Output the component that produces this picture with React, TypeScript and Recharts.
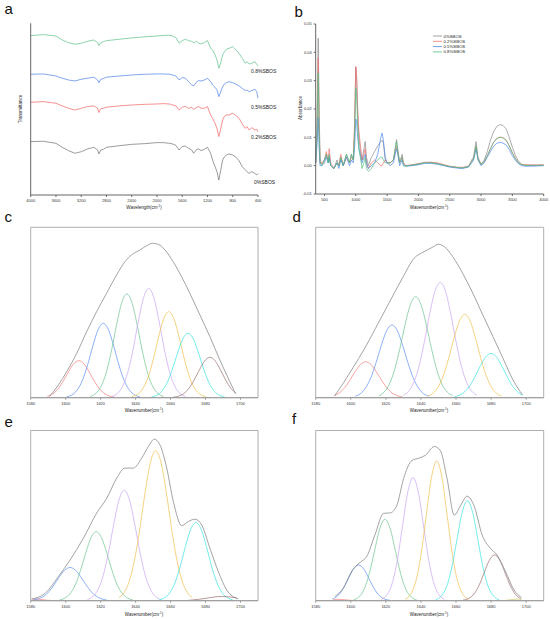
import React from "react";
import { LineChart, Line, XAxis, YAxis, ReferenceArea } from "recharts";

const FONT = "Arial, 'Liberation Sans', Helvetica, sans-serif";

// ---------- panel a : FTIR transmittance (offset traces, a.u.)
const ftirWn = [4000, 3800, 3600, 3500, 3400, 3300, 3200, 3100, 3000, 2940, 2920, 2890, 2850, 2800, 2600, 2400, 2200, 2000, 1900, 1800, 1750, 1700, 1650, 1600, 1550, 1500, 1450, 1420, 1370, 1340, 1300, 1250, 1200, 1150, 1120, 1080, 1050, 1020, 1000, 960, 930, 900, 860, 800, 760, 700, 650, 600, 575, 540, 500, 450, 420, 400];
const ftir08 = [92.8, 93.4, 92.6, 90.3, 88.7, 87.8, 88.4, 89.5, 90.3, 88.7, 87.0, 88.7, 89.3, 89.9, 90.7, 91.5, 92.1, 92.6, 93.0, 93.0, 92.6, 91.7, 88.4, 89.9, 90.7, 89.9, 89.5, 88.7, 89.5, 88.4, 88.0, 88.7, 89.9, 85.4, 84.5, 81.6, 78.7, 73.8, 75.7, 81.6, 83.5, 84.9, 85.4, 86.4, 84.9, 82.5, 79.6, 76.7, 77.7, 76.3, 76.7, 77.7, 76.1, 75.2];
const ftir05 = [70.3, 70.5, 69.3, 68.0, 67.0, 66.4, 67.4, 68.0, 68.6, 67.0, 65.4, 67.4, 67.8, 68.6, 69.3, 69.9, 70.3, 70.5, 70.5, 70.3, 69.9, 69.3, 67.0, 68.4, 68.0, 66.0, 64.1, 63.5, 66.0, 66.6, 66.4, 67.0, 68.0, 66.0, 64.1, 62.7, 61.2, 57.3, 59.2, 63.1, 64.7, 65.4, 66.0, 65.4, 64.7, 63.5, 62.1, 60.8, 61.2, 60.2, 60.8, 61.6, 60.2, 56.3];
const ftir02 = [54.0, 54.4, 53.4, 51.9, 50.5, 49.5, 50.5, 51.5, 51.9, 50.5, 48.0, 50.3, 50.5, 51.1, 51.9, 52.4, 52.8, 53.0, 53.2, 53.0, 52.4, 51.9, 49.5, 51.1, 51.5, 50.5, 51.1, 49.9, 51.1, 51.5, 50.5, 50.5, 51.5, 46.6, 44.7, 41.8, 38.8, 34.0, 36.9, 43.7, 46.0, 46.6, 46.6, 47.6, 46.6, 44.7, 41.4, 38.8, 39.8, 37.9, 39.2, 37.9, 38.3, 36.9];
const ftir00 = [31.1, 31.3, 30.1, 27.8, 25.8, 24.3, 25.2, 26.8, 27.8, 26.2, 23.9, 26.2, 26.6, 27.8, 28.7, 29.5, 29.9, 30.5, 30.5, 30.1, 29.7, 28.9, 26.2, 28.2, 28.5, 27.2, 26.2, 24.3, 26.6, 26.8, 25.8, 26.6, 27.8, 24.3, 20.4, 16.5, 13.6, 8.7, 12.6, 20.4, 22.3, 23.3, 23.9, 23.3, 22.3, 20.0, 16.5, 14.6, 13.6, 12.6, 13.6, 12.6, 11.7, 12.6];
const ftirTicks = [4000, 3600, 3200, 2800, 2400, 2000, 1600, 1200, 800, 400];

// ---------- panel b : absorbance
const absWn = [360, 380, 400, 415, 430, 460, 500, 530, 560, 575, 600, 650, 700, 730, 760, 800, 850, 900, 930, 960, 980, 1000, 1015, 1030, 1050, 1080, 1100, 1130, 1150, 1170, 1200, 1250, 1300, 1350, 1400, 1420, 1440, 1470, 1500, 1550, 1600, 1630, 1650, 1670, 1700, 1740, 1760, 1800, 1900, 2000, 2100, 2200, 2300, 2400, 2500, 2600, 2700, 2800, 2850, 2880, 2920, 2950, 3000, 3050, 3100, 3150, 3200, 3250, 3300, 3350, 3400, 3450, 3500, 3550, 3600, 3650, 3700, 3800, 3900, 4000];
const abs00 = [0.001, 0.012, 0.045, 0.02, 0.002, 0.0005, 0.002, 0.004, 0.001, 0.003, 0.0, -0.001, 0.002, 0.0, 0.003, 0.0, 0.004, 0.001, 0.004, 0.002, 0.012, 0.0348, 0.03, 0.018, 0.01, 0.004, 0.002, 0.006, 0.0085, 0.003, 0.0, 0.003, 0.005, 0.007, 0.0085, 0.009, 0.008, 0.002, 0.001, 0.001, 0.002, 0.006, 0.0092, 0.006, 0.001, 0.004, 0.001, 0.0, 0.0002, 0.0005, 0.0012, 0.0012, 0.0008, 0.0002, -0.0003, -0.0006, -0.0008, -0.0003, 0.002, 0.003, 0.0085, 0.003, 0.0005, 0.002, 0.005, 0.009, 0.012, 0.0138, 0.0145, 0.0142, 0.013, 0.01, 0.0065, 0.0035, 0.0015, 0.0005, 0.0002, 0.0001, 0.0001, 0.0002];
const abs02 = [0.001, 0.01, 0.038, 0.015, 0.001, 0.001, 0.002, 0.005, 0.002, 0.006, 0.001, -0.001, 0.001, 0.0, 0.004, 0.0, 0.003, 0.001, 0.003, 0.002, 0.015, 0.035, 0.031, 0.02, 0.012, 0.006, 0.002, 0.004, 0.006, 0.001, -0.001, 0.001, 0.002, 0.001, 0.0, 0.0, 0.001, 0.002, 0.001, 0.001, 0.002, 0.005, 0.0068, 0.005, 0.001, 0.003, 0.001, 0.0, 0.0003, 0.0008, 0.001, 0.0012, 0.001, 0.0004, -0.0002, -0.0005, -0.0006, -0.0002, 0.0015, 0.0025, 0.007, 0.0025, 0.0004, 0.0015, 0.0035, 0.006, 0.0082, 0.0096, 0.0101, 0.0099, 0.009, 0.007, 0.0045, 0.0025, 0.001, 0.0004, 0.0003, 0.0003, 0.0003, 0.0003];
const abs05 = [0.001, 0.007, 0.017, 0.006, 0.0, 0.0, 0.001, 0.003, 0.001, 0.003, 0.0, -0.001, 0.001, -0.001, 0.002, 0.0, 0.003, 0.0, 0.002, 0.001, 0.006, 0.0165, 0.015, 0.01, 0.006, 0.003, 0.001, 0.003, 0.004, 0.001, -0.001, 0.0, 0.001, 0.004, 0.01, 0.0115, 0.009, 0.003, 0.001, 0.0, 0.001, 0.004, 0.006, 0.004, 0.0, 0.002, 0.0, -0.0002, 0.0, 0.0003, 0.0008, 0.0008, 0.0005, 0.0, -0.0005, -0.0008, -0.001, -0.0005, 0.001, 0.002, 0.006, 0.002, 0.0, 0.001, 0.003, 0.005, 0.0068, 0.0079, 0.0082, 0.008, 0.0073, 0.0057, 0.0035, 0.0018, 0.0006, 0.0, -0.0002, -0.0002, -0.0001, 0.0];
const abs08 = [0.001, 0.012, 0.0327, 0.012, 0.001, 0.0, 0.002, 0.004, 0.001, 0.004, 0.0, -0.001, 0.001, 0.0, 0.003, 0.0, 0.004, 0.001, 0.004, 0.002, 0.01, 0.0275, 0.024, 0.014, 0.006, 0.002, -0.001, 0.001, 0.003, -0.001, -0.002, -0.001, 0.001, 0.002, 0.003, 0.003, 0.002, 0.001, 0.001, 0.001, 0.002, 0.006, 0.0085, 0.005, 0.001, 0.003, 0.0, -0.0001, 0.0002, 0.0006, 0.001, 0.001, 0.0007, 0.0002, -0.0003, -0.0006, -0.0008, -0.0003, 0.0015, 0.0025, 0.007, 0.0025, 0.0003, 0.0015, 0.0035, 0.006, 0.0082, 0.0095, 0.01, 0.0098, 0.009, 0.007, 0.0045, 0.0024, 0.001, 0.0003, 0.0001, 0.0001, 0.0001, 0.0001];
const absXTicks = [500, 1000, 1500, 2000, 2500, 3000, 3500, 4000];
const absYTicks = [-0.01, 0, 0.01, 0.02, 0.03, 0.04, 0.05];

const sampleNames = ["0%SBOS", "0.2%SBOS", "0.5%SBOS", "0.8%SBOS"];

// ---------- panels c-f : amide I peak fitting  [wavenumber, intensity]
const fitTicks = [1580, 1600, 1620, 1640, 1660, 1680, 1700];

const cRed = [[1589.5, 0.8], [1592.5, 2.2], [1595.5, 5.0], [1598.5, 9.5], [1601.5, 15.0], [1604.5, 19.8], [1607.5, 21.7], [1610.5, 19.8], [1613.5, 15.0], [1616.5, 9.5], [1619.5, 5.0], [1622.5, 2.2], [1625.5, 0.8], [1628.5, 0.2]];
const cBlue = [[1600.5, 0.5], [1603.5, 1.6], [1606.5, 4.4], [1609.5, 10.0], [1612.5, 19.1], [1615.5, 30.2], [1618.5, 39.8], [1621.5, 43.6], [1624.5, 39.8], [1627.5, 30.2], [1630.5, 19.1], [1633.5, 10.0], [1636.5, 4.4], [1639.5, 1.6], [1642.5, 0.5]];
const cGreen = [[1614, 0.7], [1617, 2.3], [1620, 6.2], [1623, 14.0], [1626, 26.7], [1629, 42.2], [1632, 55.5], [1635, 60.9], [1638, 55.5], [1641, 42.2], [1644, 26.7], [1647, 14.0], [1650, 6.2], [1653, 2.3], [1656, 0.7]];
const cPurple = [[1626.5, 0.7], [1629.5, 2.4], [1632.5, 6.5], [1635.5, 14.8], [1638.5, 28.1], [1641.5, 44.5], [1644.5, 58.5], [1647.5, 64.2], [1650.5, 58.5], [1653.5, 44.5], [1656.5, 28.1], [1659.5, 14.8], [1662.5, 6.5], [1665.5, 2.4], [1668.5, 0.7]];
const cYellow = [[1638, 0.6], [1641, 1.9], [1644, 5.1], [1647, 11.6], [1650, 22.1], [1653, 35.0], [1656, 46.1], [1659, 50.5], [1662, 46.1], [1665, 35.0], [1668, 22.1], [1671, 11.6], [1674, 5.1], [1677, 1.9], [1680, 0.6]];
const cCyan = [[1649, 0.4], [1652, 1.4], [1655, 3.8], [1658, 8.7], [1661, 16.6], [1664, 26.2], [1667, 34.5], [1670, 37.8], [1673, 34.5], [1676, 26.2], [1679, 16.6], [1682, 8.7], [1685, 3.8], [1688, 1.4], [1691, 0.4]];
const cBrown = [[1661.5, 0.3], [1664.5, 0.9], [1667.5, 2.4], [1670.5, 5.5], [1673.5, 10.4], [1676.5, 16.4], [1679.5, 21.6], [1682.5, 23.7], [1685.5, 21.6], [1688.5, 16.4], [1691.5, 10.4], [1694.5, 5.5], [1697.5, 2.4]];
const cSum = [[1590.7, 0.6], [1595.8, 7.4], [1600.6, 15.3], [1606.3, 26.0], [1612.0, 38.7], [1617.7, 50.5], [1623.4, 61.3], [1629.1, 72.0], [1633.9, 79.8], [1637.7, 83.8], [1642.5, 86.7], [1646.3, 89.2], [1649.7, 90.6], [1653.0, 90.0], [1656.8, 86.7], [1661.5, 79.8], [1666.3, 71.0], [1671.0, 61.3], [1676.8, 48.5], [1682.5, 35.8], [1688.2, 22.1], [1693.9, 9.4], [1697.1, 2.5]];

const dRed = [[1590.5, 1.2], [1593.5, 2.8], [1596.5, 5.9], [1599.5, 10.3], [1602.5, 15.3], [1605.5, 19.5], [1608.5, 21.1], [1611.5, 19.5], [1614.5, 15.3], [1617.5, 10.3], [1620.5, 5.9], [1623.5, 2.8], [1626.5, 1.2], [1629.5, 0.4]];
const dBlue = [[1602.5, 0.9], [1605.5, 2.4], [1608.5, 5.8], [1611.5, 11.9], [1614.5, 20.8], [1617.5, 31.0], [1620.5, 39.4], [1623.5, 42.7], [1626.5, 39.4], [1629.5, 31.0], [1632.5, 20.8], [1635.5, 11.9], [1638.5, 5.8], [1641.5, 2.4], [1644.5, 0.9]];
const dGreen = [[1616, 1.2], [1619, 3.3], [1622, 8.0], [1625, 16.5], [1628, 28.9], [1631, 43.1], [1634, 54.7], [1637, 59.3], [1640, 54.7], [1643, 43.1], [1646, 28.9], [1649, 16.5], [1652, 8.0], [1655, 3.3], [1658, 1.2]];
const dPurple = [[1630, 1.4], [1633, 3.8], [1636, 9.1], [1639, 18.8], [1642, 33.0], [1645, 49.2], [1648, 62.5], [1651, 67.7], [1654, 62.5], [1657, 49.2], [1660, 33.0], [1663, 18.8], [1666, 9.1], [1669, 3.8], [1672, 1.4]];
const dYellow = [[1644, 1.0], [1647, 2.7], [1650, 6.6], [1653, 13.6], [1656, 23.8], [1659, 35.5], [1662, 45.1], [1665, 48.9], [1668, 45.1], [1671, 35.5], [1674, 23.8], [1677, 13.6], [1680, 6.6], [1683, 2.7], [1686, 1.0]];
const dCyan = [[1659, 0.5], [1662, 1.5], [1665, 3.5], [1668, 7.2], [1671, 12.7], [1674, 18.9], [1677, 24.0], [1680, 26.0], [1683, 24.0], [1686, 18.9], [1689, 12.7], [1692, 7.2], [1695, 3.5], [1698, 1.5]];
const dSum = [[1590.7, 1.0], [1595.9, 8.8], [1601.6, 18.2], [1607.4, 28.0], [1614.1, 40.7], [1621.7, 55.4], [1629.4, 70.1], [1636.1, 81.8], [1641.8, 85.7], [1646.6, 88.3], [1649.9, 90.0], [1653.3, 88.7], [1658.1, 82.8], [1663.8, 73.0], [1669.6, 61.3], [1675.3, 48.5], [1681.1, 35.8], [1686.8, 23.1], [1692.5, 10.4], [1697.9, 1.6]];

const eRed = [[1580.5, 0.9], [1583, 1.0], [1586, 0.7], [1589, 0.3], [1592, 0.1]];
const eBlue = [[1581.5, 0.4], [1584.5, 1.1], [1587.5, 2.6], [1590.5, 5.4], [1593.5, 9.5], [1596.5, 14.2], [1599.5, 18.0], [1602.5, 19.5], [1605.5, 18.0], [1608.5, 14.2], [1611.5, 9.5], [1614.5, 5.4], [1617.5, 2.6], [1620.5, 1.1], [1623.5, 0.4]];
const eGreen = [[1596.5, 0.4], [1599.5, 1.5], [1602.5, 4.1], [1605.5, 9.3], [1608.5, 17.8], [1611.5, 28.1], [1614.5, 37.0], [1617.5, 40.6], [1620.5, 37.0], [1623.5, 28.1], [1626.5, 17.8], [1629.5, 9.3], [1632.5, 4.1], [1635.5, 1.5], [1638.5, 0.4]];
const ePurple = [[1612.5, 0.7], [1615.5, 2.4], [1618.5, 6.6], [1621.5, 14.9], [1624.5, 28.4], [1627.5, 45.0], [1630.5, 59.2], [1633.5, 64.9], [1636.5, 59.2], [1639.5, 45.0], [1642.5, 28.4], [1645.5, 14.9], [1648.5, 6.6], [1651.5, 2.4], [1654.5, 0.7]];
const eYellow = [[1630.5, 1.8], [1633.5, 4.9], [1636.5, 11.9], [1639.5, 24.5], [1642.5, 42.9], [1645.5, 64.0], [1648.5, 81.3], [1651.5, 88.1], [1654.5, 81.3], [1657.5, 64.0], [1660.5, 42.9], [1663.5, 24.5], [1666.5, 11.9], [1669.5, 4.9], [1672.5, 1.8]];
const eCyan = [[1653.5, 0.5], [1656.5, 1.7], [1659.5, 4.6], [1662.5, 10.6], [1665.5, 20.1], [1668.5, 31.8], [1671.5, 41.9], [1674.5, 45.9], [1677.5, 41.9], [1680.5, 31.8], [1683.5, 20.1], [1686.5, 10.6], [1689.5, 4.6], [1692.5, 1.7], [1695.5, 0.5]];
const eBrown = [[1670, 0.2], [1676, 0.8], [1682, 1.7], [1687, 2.4], [1690, 2.5], [1694, 2.2], [1698, 1.6]];
const eSum = [[1580.6, 1.0], [1588.2, 4.3], [1595.8, 14.1], [1602.5, 23.9], [1610.1, 36.7], [1617.7, 51.4], [1623.5, 60.2], [1629.2, 72.0], [1633.9, 77.9], [1638.7, 77.9], [1643.5, 83.8], [1647.3, 90.6], [1650.7, 94.9], [1653.9, 91.6], [1657.8, 77.9], [1661.6, 58.2], [1666.4, 44.1], [1670.1, 46.5], [1674.0, 47.9], [1677.8, 44.5], [1682.5, 30.8], [1687.3, 17.1], [1692.1, 6.3], [1698.7, 1.0]];

const fRed = [[1590, 0.5], [1593, 0.8], [1597, 0.5], [1601, 0.1]];
const fBlue = [[1589.5, 0.9], [1592.5, 2.8], [1595.5, 6.8], [1598.5, 12.7], [1601.5, 18.5], [1604.5, 21.0], [1607.5, 18.5], [1610.5, 12.7], [1613.5, 6.8], [1616.5, 2.8], [1619.5, 0.9], [1622.5, 0.2]];
const fGreen = [[1601.5, 0.5], [1604.5, 2.1], [1607.5, 6.5], [1610.5, 15.6], [1613.5, 29.1], [1616.5, 42.2], [1619.5, 47.9], [1622.5, 42.2], [1625.5, 29.1], [1628.5, 15.6], [1631.5, 6.5], [1634.5, 2.1], [1637.5, 0.5]];
const fPurple = [[1617.5, 0.8], [1620.5, 3.2], [1623.5, 9.8], [1626.5, 23.5], [1629.5, 43.9], [1632.5, 63.8], [1635.5, 72.3], [1638.5, 63.8], [1641.5, 43.9], [1644.5, 23.5], [1647.5, 9.8], [1650.5, 3.2], [1653.5, 0.8]];
const fYellow = [[1631, 0.9], [1634, 3.6], [1637, 11.1], [1640, 26.7], [1643, 49.8], [1646, 72.4], [1649, 82.1], [1652, 72.4], [1655, 49.8], [1658, 26.7], [1661, 11.1], [1664, 3.6], [1667, 0.9]];
const fCyan = [[1648.5, 0.6], [1651.5, 2.6], [1654.5, 7.9], [1657.5, 19.1], [1660.5, 35.6], [1663.5, 51.8], [1666.5, 58.7], [1669.5, 51.8], [1672.5, 35.6], [1675.5, 19.1], [1678.5, 7.9], [1681.5, 2.6], [1684.5, 0.6]];
const fBrown = [[1664, 0.3], [1667, 1.2], [1670, 3.6], [1673, 8.7], [1676, 16.3], [1679, 23.7], [1682, 26.9], [1685, 23.7], [1688, 16.3], [1691, 8.7], [1694, 3.6], [1697, 1.2]];
const fOlive = [[1688, 0.2], [1692, 0.6], [1695, 1.0], [1697.5, 0.8]];
const fSum = [[1591.0, 2.5], [1595.8, 7.5], [1600.6, 17.5], [1605.3, 22.5], [1609.1, 26.0], [1613.9, 39.0], [1618.7, 51.3], [1622.5, 51.6], [1626.3, 56.1], [1630.1, 71.7], [1634.9, 82.4], [1639.0, 83.8], [1642.5, 85.4], [1647.6, 90.6], [1651.0, 88.3], [1654.9, 71.7], [1659.0, 50.3], [1662.5, 55.7], [1666.3, 61.4], [1670.5, 55.2], [1674.9, 38.6], [1679.6, 30.8], [1683.4, 26.9], [1688.2, 17.2], [1693.0, 6.4], [1697.3, 1.9]];

// ---------- colours
const GRAY = "#8c8c8c";
const RED = "#f47c7c";
const BLUE = "#5b8ff0";
const GREEN = "#6cc490";
const PURPLE = "#c7a3f2";
const YELLOW = "#f0bf4c";
const CYAN = "#38e2e2";
const BROWN = "#9c6e6e";
const OLIVE = "#c8c060";
const AXIS = "#666";
const BOX = "#9a9a9a";

const toPts = (a: number[][]) => a.map(([x, y]) => ({ x, y }));

const ftirRows = ftirWn.map((wn, i) => ({ wn, s00: ftir00[i], s02: ftir02[i], s05: ftir05[i], s08: ftir08[i] }));
const absRows = absWn.map((wn, i) => ({ wn, s00: abs00[i], s02: abs02[i], s05: abs05[i], s08: abs08[i] }));

const tickStyle = { fontSize: 4, fill: "#333", fontFamily: FONT };

type FitProps = {
  left: number;
  top: number;
  height: number;
  margin: { top: number; right: number; bottom: number; left: number };
  series: [number[][], string][];
  sum: number[][];
};

function FitPanel({ left, top, height, margin, series, sum }: FitProps) {
  return (
    <div style={{ position: "absolute", left, top }}>
      <LineChart width={275} height={height} margin={margin}>
        <XAxis
          dataKey="x"
          type="number"
          domain={[1580, 1710]}
          ticks={fitTicks}
          interval={0}
          height={12}
          tick={tickStyle}
          tickSize={2}
          stroke={BOX}
          allowDataOverflow
        />
        <YAxis type="number" domain={[0, 100]} hide allowDataOverflow />
        <ReferenceArea x1={1580} x2={1710} y1={0} y2={100} fill="none" stroke={BOX} strokeWidth={0.8} />
        {series.map(([pts, color], i) => (
          <Line
            key={i}
            data={toPts(pts)}
            dataKey="y"
            type="monotone"
            stroke={color}
            strokeWidth={0.7}
            dot={false}
            isAnimationActive={false}
          />
        ))}
        <Line data={toPts(sum)} dataKey="y" type="monotone" stroke={GRAY} strokeWidth={0.8} dot={false} isAnimationActive={false} />
      </LineChart>
    </div>
  );
}

function WnLabel({ x, y, text }: { x: number; y: number; text: string }) {
  return (
    <text x={x} y={y} fontSize={4.5} textAnchor="middle" fill="#222" fontFamily={FONT}>
      {text}(cm<tspan dy={-1.6} fontSize={3}>-1</tspan>
      <tspan dy={1.6}>)</tspan>
    </text>
  );
}

export default function App() {
  const topMargin = { top: 12.3, right: 17, bottom: 5.3, left: 30.7 };
  const topMarginR = { top: 12.3, right: 6.3, bottom: 5.3, left: 40.7 };
  const botMargin = { top: 15.5, right: 17, bottom: 6.3, left: 30.7 };
  const botMarginR = { top: 15.5, right: 6.3, bottom: 6.3, left: 40.7 };

  return (
    <div style={{ position: "absolute", left: 0, top: 0, width: 550, height: 619, background: "#fff", fontFamily: FONT }}>
      {/* a */}
      <div style={{ position: "absolute", left: 0, top: 0 }}>
        <LineChart width={275} height={215} data={ftirRows} margin={{ top: 23.3, right: 17, bottom: 6, left: 29.7 }}>
          <XAxis
            dataKey="wn"
            type="number"
            domain={[400, 4000]}
            reversed
            ticks={ftirTicks}
            interval={0}
            height={14}
            tick={tickStyle}
            tickSize={2}
            stroke={AXIS}
          />
          <YAxis type="number" domain={[0, 100]} width={1} tick={false} tickLine={false} stroke={AXIS} />
          <Line dataKey="s00" type="linear" stroke="#707070" strokeWidth={0.7} dot={false} isAnimationActive={false} />
          <Line dataKey="s02" type="linear" stroke="#f06262" strokeWidth={0.7} dot={false} isAnimationActive={false} />
          <Line dataKey="s05" type="linear" stroke="#4a80e6" strokeWidth={0.7} dot={false} isAnimationActive={false} />
          <Line dataKey="s08" type="linear" stroke="#5cc28a" strokeWidth={0.7} dot={false} isAnimationActive={false} />
        </LineChart>
      </div>

      {/* b */}
      <div style={{ position: "absolute", left: 275, top: 0 }}>
        <LineChart width={275} height={215} data={absRows} margin={{ top: 24, right: 6.3, bottom: 7, left: 27.7 }}>
          <XAxis
            dataKey="wn"
            type="number"
            domain={[360, 4000]}
            ticks={absXTicks}
            interval={0}
            height={14}
            tick={tickStyle}
            tickSize={2}
            stroke={AXIS}
          />
          <YAxis
            type="number"
            domain={[-0.01, 0.05]}
            ticks={absYTicks}
            interval={0}
            width={13}
            tick={tickStyle}
            tickSize={2}
            tickFormatter={(v: number) => v.toFixed(2)}
            stroke={AXIS}
          />
          <Line dataKey="s00" type="linear" stroke="#8a8a8a" strokeWidth={0.7} dot={false} isAnimationActive={false} />
          <Line dataKey="s02" type="linear" stroke="#f07070" strokeWidth={0.7} dot={false} isAnimationActive={false} />
          <Line dataKey="s05" type="linear" stroke="#4a86e8" strokeWidth={0.7} dot={false} isAnimationActive={false} />
          <Line dataKey="s08" type="linear" stroke="#4cbf80" strokeWidth={0.7} dot={false} isAnimationActive={false} />
        </LineChart>
      </div>

      <FitPanel left={0} top={215} height={200} margin={topMargin}
        series={[[cRed, RED], [cBlue, BLUE], [cGreen, GREEN], [cPurple, PURPLE], [cYellow, YELLOW], [cCyan, CYAN], [cBrown, BROWN]]}
        sum={cSum} />
      <FitPanel left={275} top={215} height={200} margin={topMarginR}
        series={[[dRed, RED], [dBlue, BLUE], [dGreen, GREEN], [dPurple, PURPLE], [dYellow, YELLOW], [dCyan, CYAN]]}
        sum={dSum} />
      <FitPanel left={0} top={415} height={204} margin={botMargin}
        series={[[eRed, RED], [eBlue, BLUE], [eGreen, GREEN], [ePurple, PURPLE], [eYellow, YELLOW], [eCyan, CYAN], [eBrown, BROWN]]}
        sum={eSum} />
      <FitPanel left={275} top={415} height={204} margin={botMarginR}
        series={[[fRed, RED], [fBlue, BLUE], [fGreen, GREEN], [fPurple, PURPLE], [fYellow, YELLOW], [fCyan, CYAN], [fBrown, BROWN], [fOlive, OLIVE]]}
        sum={fSum} />

      {/* text overlay */}
      <svg width={550} height={619} style={{ position: "absolute", left: 0, top: 0, pointerEvents: "none" }}>
        <g fontFamily={FONT} fill="#111" fontSize={15}>
          <text x={4.5} y={14}>a</text>
          <text x={294.5} y={16.5}>b</text>
          <text x={4.5} y={222}>c</text>
          <text x={292.5} y={222}>d</text>
          <text x={4.5} y={427}>e</text>
          <text x={292} y={423.5}>f</text>
        </g>

        <text x={21.5} y={109} fontSize={4.5} textAnchor="middle" fill="#222" fontFamily={FONT} transform="rotate(-90 21.5 109)">
          Transmittance
        </text>
        <text x={301.5} y={108} fontSize={4.5} textAnchor="middle" fill="#222" fontFamily={FONT} transform="rotate(-90 301.5 108)">
          Absorbance
        </text>
        <WnLabel x={144} y={208.5} text="Wavelength" />
        <WnLabel x={429} y={208.5} text="Wavenumber" />
        <WnLabel x={144} y={411.5} text="Wavenumber" />
        <WnLabel x={429} y={411.5} text="Wavenumber" />
        <WnLabel x={144} y={615.5} text="Wavenumber" />
        <WnLabel x={429} y={615.5} text="Wavenumber" />

        <g fontSize={5} fill="#222" fontFamily={FONT}>
          <text x={251} y={72.5}>{sampleNames[3]}</text>
          <text x={251} y={108.5}>{sampleNames[2]}</text>
          <text x={251} y={139}>{sampleNames[1]}</text>
          <text x={254} y={183.5}>{sampleNames[0]}</text>
        </g>

        {[GRAY, "#f07070", "#4a86e8", "#4cbf80"].map((c, i) => (
          <g key={i}>
            <line x1={433} x2={442} y1={36 + i * 5.3} y2={36 + i * 5.3} stroke={c} strokeWidth={0.8} />
            <text x={443.5} y={37.5 + i * 5.3} fontSize={4.3} fill="#222" fontFamily={FONT}>
              {sampleNames[i]}
            </text>
          </g>
        ))}
      </svg>
    </div>
  );
}
